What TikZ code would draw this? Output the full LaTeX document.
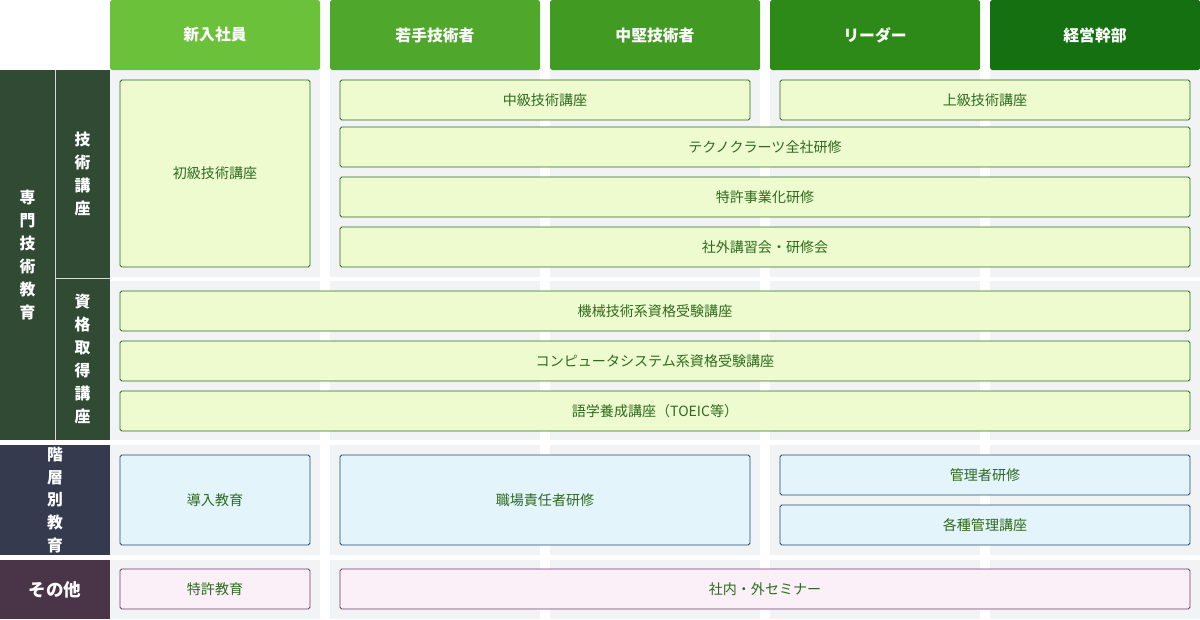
\documentclass[tikz,border=0pt]{standalone}
\usepackage{fontspec}
\setmainfont{Noto Sans CJK JP}
\begin{document}
\begin{tikzpicture}
[x=0.02cm,y=-0.02cm,
  headDecorate/.style={text=white,font=\fontsize{9}{11}\selectfont\bfseries},
  sideDecorate/.style={text=white,align=center,font=\fontsize{9}{13}\selectfont\bfseries},
  boxDecorate/.style={draw,rounded corners=1pt,line width=0.5pt},
  greenBox/.style={boxDecorate,fill=boxGreen,draw=lineGreen,text=lineGreen},
  blueBox/.style={boxDecorate,fill=boxBlue,draw=lineBlue,text=lineBlue},
  pinkBox/.style={boxDecorate,fill=boxPink,draw=linePink,text=linePink}]
\definecolor{boxGreen}{HTML}{EDFBCF}\definecolor{lineGreen}{HTML}{2E6B1E}
\definecolor{boxBlue}{HTML}{E3F4FB}\definecolor{lineBlue}{HTML}{234A6E}
\definecolor{boxPink}{HTML}{FBF0F8}\definecolor{linePink}{HTML}{6B3A6B}
\definecolor{cellGray}{HTML}{F2F3F5}
\useasboundingbox (0,0) rectangle (1200,619);
%% grey cells
\foreach \xa in {110,330,550,770,990}
  \foreach \ya/\yb in {70/277, 281/440, 445/555, 560/619}
    \fill[cellGray] (\xa,\ya) rectangle (\xa+210,\yb);
%% header
\foreach \name/\xa/\col/\txt in {
  h1/110/6CC13A/新入社員, h2/330/4FA82B/若手技術者, h3/550/419B23/中堅技術者,
  h4/770/2E8A18/リーダー, h5/990/147010/経営幹部}
{
  \definecolor{hc}{HTML}{\col}
  \fill[hc,rounded corners=1pt] (\xa,0) rectangle (\xa+210,70);
  \node (\name) at (\xa+105,35) [headDecorate] {\txt};
}
%% side labels
\fill[fill={rgb,255:red,48;green,74;blue,52}] (0,70) rectangle (110,440);
\draw[white!70!gray,line width=0.4pt] (55,70) -- (55,440) (55,278) -- (110,278);
\node (s1) at (27.5,255) [sideDecorate] {専\\門\\技\\術\\教\\育};
\node (s2) at (82.5,174) [sideDecorate] {技\\術\\講\\座};
\node (s3) at (82.5,359) [sideDecorate] {資\\格\\取\\得\\講\\座};
\fill[fill={rgb,255:red,53;green,58;blue,78}] (0,445) rectangle (110,555);
\node (s4) at (55,500) [sideDecorate] {階\\層\\別\\教\\育};
\fill[fill={rgb,255:red,74;green,52;blue,72}] (0,560) rectangle (110,619);
\node (s5) at (55,589.5) [sideDecorate,font=\fontsize{10}{12}\selectfont\bfseries] {その他};
%% course boxes
\foreach \name/\sty/\xa/\ya/\xb/\yb/\txt in {
  b1/greenBox/120/80/310/267/初級技術講座,
  b2/greenBox/340/80/750/120/中級技術講座,
  b3/greenBox/780/80/1190/120/上級技術講座,
  b4/greenBox/340/127/1190/167/テクノクラーツ全社研修,
  b5/greenBox/340/177/1190/217/特許事業化研修,
  b6/greenBox/340/227/1190/267/社外講習会・研修会,
  b7/greenBox/120/291/1190/331/機械技術系資格受験講座,
  b8/greenBox/120/341/1190/381/コンピュータシステム系資格受験講座,
  b9/greenBox/120/391/1190/431/語学養成講座（TOEIC等）,
  b10/blueBox/120/455/310/545/導入教育,
  b11/blueBox/340/455/750/545/職場責任者研修,
  b12/blueBox/780/455/1190/495/管理者研修,
  b13/blueBox/780/505/1190/545/各種管理講座,
  b14/pinkBox/120/569/310/609/特許教育,
  b15/pinkBox/340/569/1190/609/社内・外セミナー}
{
  \draw[\sty] (\xa,\ya) rectangle (\xb,\yb);
  \node (\name) at ({(\xa+\xb)/2},{(\ya+\yb)/2}) [text=lineGreen,font=\fontsize{8}{10}\selectfont]
    {\ifx\sty\empty\fi\txt};
}
\end{tikzpicture}
\end{document}
